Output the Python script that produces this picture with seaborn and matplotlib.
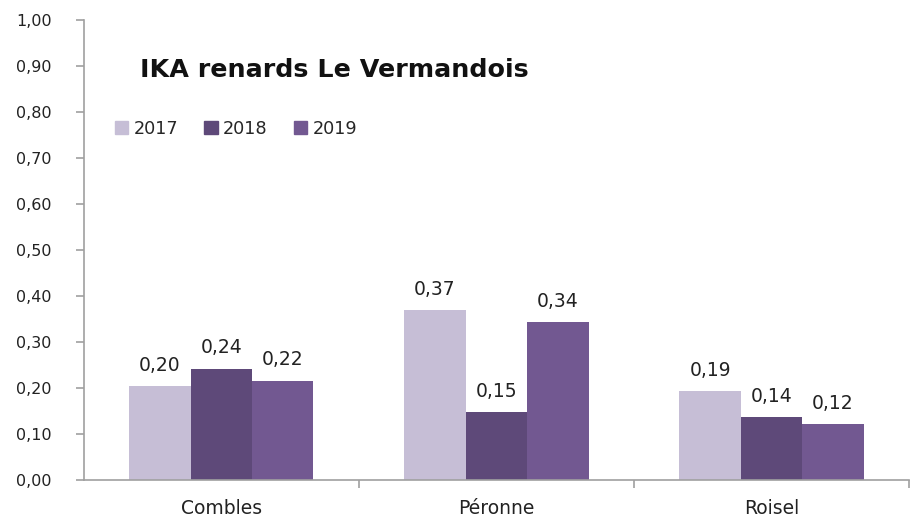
import pandas as pd
import matplotlib.pyplot as plt
import matplotlib.ticker as mticker
import seaborn as sns

# Data
sites = ["Combles", "Péronne", "Roisel"]
years = ["2017", "2018", "2019"]
ika_2017 = [0.204, 0.370, 0.193]
ika_2018 = [0.242, 0.148, 0.137]
ika_2019 = [0.216, 0.343, 0.121]
colors = ["#C6BED6", "#5E4979", "#725891"]

df = pd.DataFrame({
    "site": sites * 3,
    "year": [y for y in years for _ in sites],
    "ika": ika_2017 + ika_2018 + ika_2019,
})

sns.set_style("white")
plt.rcParams["font.family"] = ["DejaVu Sans"]

fig = plt.figure(figsize=(9.1, 5.2), dpi=100)
ax = fig.add_axes([0.092, 0.077, 0.907, 0.885])

sns.barplot(data=df, x="site", y="ika", hue="year", hue_order=years,
            palette=colors, width=0.67, gap=0, saturation=1, ax=ax,
            errorbar=None, legend=False, linewidth=0)

for cont in ax.containers:
    ax.bar_label(cont, labels=[f"{v:.2f}".replace(".", ",") for v in cont.datavalues],
                 padding=8, fontsize=13.5, color="#222222")

ax.set_xlim(-0.5, 2.5)
ax.set_ylim(0, 1.0)
ax.yaxis.set_major_locator(mticker.MultipleLocator(0.1))
ax.yaxis.set_major_formatter(mticker.FuncFormatter(lambda v, p: f"{v:.2f}".replace(".", ",")))
ax.set_xlabel("")
ax.set_ylabel("")

ax.xaxis.set_minor_locator(mticker.FixedLocator([0.5, 1.5, 2.5]))
ax.tick_params(axis="x", which="major", bottom=True, length=0, pad=14,
               labelsize=13.5, colors="#222222")
ax.tick_params(axis="x", which="minor", bottom=True, length=6, color="#A0A0A0",
               width=1.2, direction="out")
ax.tick_params(axis="y", left=True, length=6, color="#A0A0A0", width=1.2, direction="out",
               labelsize=11.5, labelcolor="#222222", pad=17)

for s in ["top", "right"]:
    ax.spines[s].set_visible(False)
for s in ["left", "bottom"]:
    ax.spines[s].set_color("#A0A0A0")
    ax.spines[s].set_linewidth(1.2)

ax.text(0.068, 0.891, "IKA renards Le Vermandois", transform=ax.transAxes,
        fontsize=18.3, fontweight="bold", color="#111111", va="center")

handles = [plt.Rectangle((0, 0), 1, 1, color=c) for c in colors]
ax.legend(handles, years, loc="center left", bbox_to_anchor=(0.0376, 0.763), ncol=3,
          frameon=False, fontsize=12.7, handlelength=0.75, handleheight=0.75,
          handletextpad=0.3, columnspacing=1.5, borderpad=0, borderaxespad=0)

fig.savefig("out.png", dpi=100)
